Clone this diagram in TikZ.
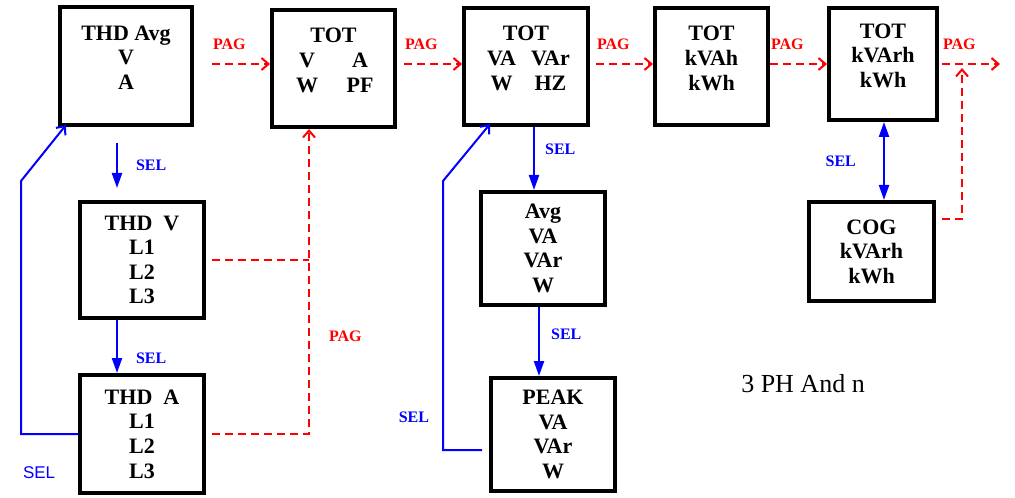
\documentclass[tikz,border=0pt]{standalone}
\usepackage{fontspec}
\setmainfont{Liberation Serif}
\setsansfont{Liberation Sans}
\usetikzlibrary{arrows.meta,positioning,calc}

% dos columnas dentro de una caja
\newcommand{\dos}[3]{\makebox[22pt]{#2}\hspace{#1}\makebox[22pt]{#3}}

\begin{document}
\begin{tikzpicture}[
  x=0.5pt, y=-0.5pt,
  caja/.style={rectangle, draw, line width=1.8pt, align=center, font=\fontsize{11}{12.3}\selectfont\bfseries, minimum width=62.2pt, minimum height=58.7pt},
  pag/.style={red, line width=1pt, dash pattern=on 4pt off 2.5pt},
  flechapag/.style={pag, -{Straight Barb[length=3.5pt,width=6pt]}},
  sel/.style={blue, line width=1.1pt, -{Triangle[length=7.5pt,width=5pt]}},
  seldoble/.style={blue, line width=1.1pt, {Triangle[length=7.5pt,width=5pt]}-{Triangle[length=7.5pt,width=5pt]}},
  vuelta/.style={blue, line width=1pt, -{Straight Barb[length=3.5pt,width=6pt]}},
  etiqpag/.style={text=red, font=\fontsize{8}{9}\selectfont\bfseries, inner sep=0pt},
  pagarriba/.style={etiqpag, pos=0, anchor=south west, yshift=6.5pt},
  etiqsel/.style={text=blue, font=\fontsize{8}{9}\selectfont\bfseries, inner sep=0pt}
]
\useasboundingbox (0,0) rectangle (1015,497);

% fila de arriba
\node[caja, minimum width=66.2pt, minimum height=59.2pt] (thdavg) at (126,66) {THD Avg\\V\\A\\[-4pt]\mbox{}};
\node[caja, minimum width=61.7pt] (totvapf) at (333.5,68.5) {TOT\\\dos{4.5pt}{V}{A}\\\dos{4.5pt}{W}{PF}\\[-4pt]\mbox{}};
\node[caja] (totvahz) at (526,66.5) {TOT\\\dos{2.5pt}{VA}{VAr}\\\dos{2.5pt}{W}{HZ}\\[-4pt]\mbox{}};
\node[caja, minimum width=56.7pt] (totkvah) at (711.5,66.5) {TOT\\kVAh\\kWh\\[-4pt]\mbox{}};
\node[caja, minimum width=54.2pt, minimum height=56.2pt] (totkvarh) at (883,64) {TOT\\kVArh\\kWh\\[-4pt]\mbox{}};

% columnas
\node[caja, minimum height=58.2pt] (thdv) at (142,260) {THD\ \ V\\L1\\L2\\L3};
\node[caja, minimum height=59.2pt] (thda) at (142,434) {THD\ \ A\\L1\\L2\\L3};
\node[caja, minimum height=56.7pt] (avg) at (543,248.5) {Avg\\VA\\VAr\\W};
\node[caja, minimum height=56.7pt] (peak) at (553,434.5) {PEAK\\VA\\VAr\\W};
\node[caja, minimum width=62.7pt, minimum height=49.7pt] (cog) at (871.5,251.5) {COG\\kVArh\\kWh};

\node[font=\fontsize{13}{15}\selectfont] (fase) at (803,384) {3 PH And n};

\coordinate (nivel) at (0,64);
\coordinate (sal) at (1000,64);
\coordinate (cruce) at (962,64);
\coordinate (sube) at ($(totvapf.south)+(-12.25pt,0)$);
\coordinate (giro1) at (21,181);
\coordinate (giro2) at (443,181);

% PAG
\draw[flechapag] ($(thdavg.east |- nivel)+(9pt,0)$) -- node[pagarriba]{PAG} (totvapf.west |- nivel);
\draw[flechapag] ($(totvapf.east |- nivel)+(3.5pt,0)$) -- node[pagarriba]{PAG} (totvahz.west |- nivel);
\draw[flechapag] ($(totvahz.east |- nivel)+(3pt,0)$) -- node[pagarriba]{PAG} (totkvah.west |- nivel);
\draw[flechapag] (totkvah.east |- nivel) -- node[pagarriba]{PAG} (totkvarh.west |- nivel);
\draw[flechapag] ($(totkvarh.east |- nivel)+(1.5pt,0)$) -- node[pagarriba]{PAG} (sal);
\draw[flechapag] ($(cog.north east)+(3pt,-9.5pt)$) -| ([yshift=-2pt]cruce);
\draw[pag] ($(thdv.east)+(3pt,0)$) -- (thdv.east -| sube);
\draw[flechapag] ($(thda.east)+(3pt,0)$) -| node[etiqpag, pos=0.66, anchor=west, xshift=9.5pt]{PAG} (sube);

% SEL
\draw[sel] ($(thdavg.south)+(-4.5pt,-8pt)$) -- node[etiqsel, right=9pt]{SEL} ($(thdv.north)+(-12.5pt,6pt)$);
\draw[sel] ($(thdv.south)+(-12.5pt,0)$) -- node[etiqsel, right=9pt, pos=0.72]{SEL} ($(thda.north)+(-12.5pt,0)$);
\draw[sel] ($(totvahz.south)+(4pt,0)$) -- node[etiqsel, right=5pt, pos=0.35]{SEL} ($(avg.north)+(-4.5pt,0)$);
\draw[sel] ($(avg.south)+(-2pt,0)$) -- node[etiqsel, right=5.5pt, pos=0.4]{SEL} ($(peak.north)+(-7pt,0)$);
\draw[seldoble] ($(totkvarh.south)+(0.5pt,0)$) -- node[etiqsel, left=13.5pt]{SEL} ($(cog.north)+(6.25pt,0)$);
\draw[vuelta] (thda.west) -| node[pos=0.5, anchor=north west, xshift=0.5pt, yshift=-16pt, text=blue, font=\sffamily\fontsize{8.5}{10}\selectfont, inner sep=0pt]{SEL} (giro1) -- ($(thdavg.south west)+(4pt,1pt)$);
\draw[vuelta] ($(peak.west)+(-3.5pt,-7.75pt)$) -| node[etiqsel, pos=0.56, left=6.5pt]{SEL} (giro2) -- ($(totvahz.south west)+(14pt,1.5pt)$);
\end{tikzpicture}
\end{document}
